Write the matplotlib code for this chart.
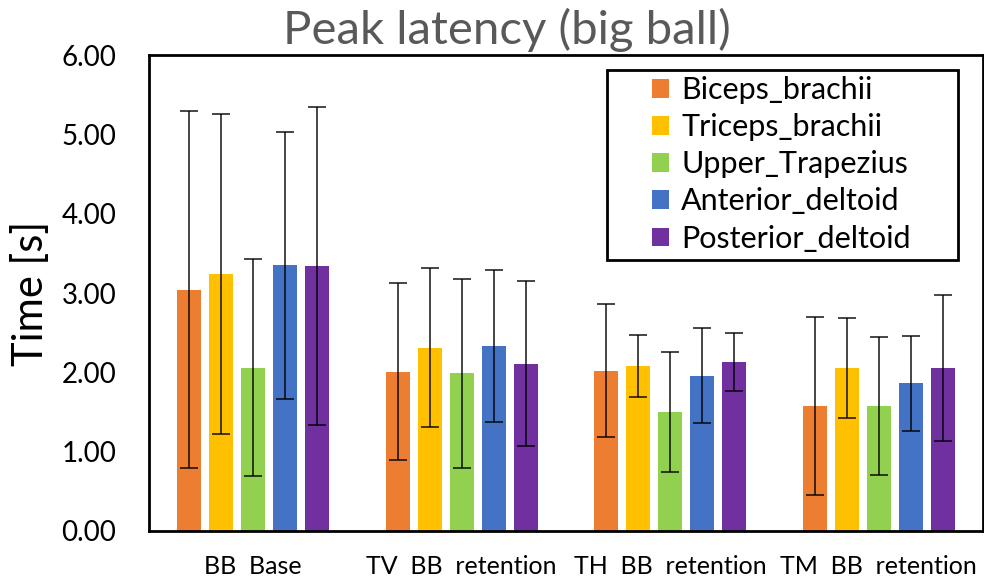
import numpy as np
import matplotlib
matplotlib.use("Agg")
import matplotlib.pyplot as plt
from matplotlib.patches import Rectangle

plt.rcParams['font.family'] = ['Lato', 'DejaVu Sans']

# Categories (x groups) and muscles (series)
groups = ["BB  Base", "TV  BB  retention", "TH  BB  retention", "TM  BB  retention"]
muscles = ["Biceps_brachii", "Triceps_brachii", "Upper_Trapezius",
           "Anterior_deltoid", "Posterior_deltoid"]
colors = ["#ED7D31", "#FFC000", "#92D050", "#4472C4", "#7030A0"]

# mean peak latency [s], one list per muscle, in group order
biceps = [3.04, 2.01, 2.02, 1.58]
triceps = [3.24, 2.31, 2.08, 2.06]
trapezius = [2.06, 1.99, 1.50, 1.58]
ant_deltoid = [3.35, 2.33, 1.96, 1.86]
post_deltoid = [3.34, 2.11, 2.13, 2.06]

# standard deviations
biceps_sd = [2.25, 1.12, 0.84, 1.12]
triceps_sd = [2.02, 1.00, 0.39, 0.63]
trapezius_sd = [1.37, 1.19, 0.76, 0.87]
ant_deltoid_sd = [1.68, 0.96, 0.60, 0.60]
post_deltoid_sd = [2.00, 1.04, 0.37, 0.92]

means = [biceps, triceps, trapezius, ant_deltoid, post_deltoid]
sds = [biceps_sd, triceps_sd, trapezius_sd, ant_deltoid_sd, post_deltoid_sd]

fig = plt.figure(figsize=(9.84, 5.8), dpi=100)
ax = fig.add_axes([0.1514, 0.0845, 0.8476, 0.8205])

x = np.arange(len(groups))
step = 0.153
width = 0.115
for i, (m, s) in enumerate(zip(means, sds)):
    ax.bar(x + (i - 2) * step, m, width, color=colors[i], label=muscles[i],
           yerr=s, error_kw=dict(ecolor="black", elinewidth=1.2, capsize=6.5,
                                 capthick=1.2, alpha=0.85))

ax.set_xlim(-0.5, 3.5)
ax.set_ylim(0, 6)
ax.set_yticks(np.arange(0, 7, 1))
ax.set_yticklabels([f"{v:.2f}" for v in np.arange(0, 7, 1)], fontsize=20)
ax.set_xticks(x)
ax.set_xticklabels(groups, fontsize=18)
ax.tick_params(axis="both", length=0)
ax.tick_params(axis="y", pad=23.5)
ax.tick_params(axis="x", pad=17)
for sp in ax.spines.values():
    sp.set_linewidth(2)
    sp.set_color("black")

ax.set_ylabel("Time [s]", fontsize=30, labelpad=8)

fig.text(507 / 984, 1 - 30 / 580, "Peak latency (big ball)", fontsize=34,
         color="#595959", ha="center", va="center")

# legend box drawn separately so that it can have Excel-like padding
box = Rectangle((607 / 984, 1 - 260 / 580), 351 / 984, 190 / 580,
                transform=fig.transFigure, fill=False, edgecolor="black",
                linewidth=2, zorder=5)
fig.patches.append(box)
leg = ax.legend(loc="upper left", bbox_to_anchor=(652 / 984, 1 - 76 / 580),
                bbox_transform=fig.transFigure, fontsize=22, frameon=False,
                handlelength=0.56, handleheight=0.56, handletextpad=0.4,
                labelspacing=0.3, borderpad=0, borderaxespad=0)

fig.savefig("out.png", dpi=100)
